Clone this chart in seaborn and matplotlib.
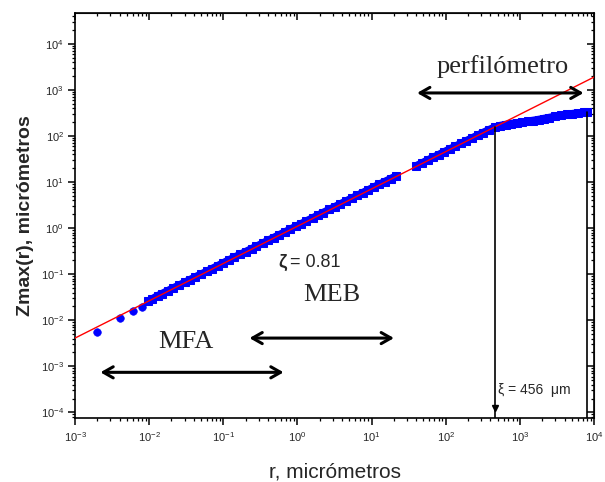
import pandas as pd
import seaborn as sns
from matplotlib import pyplot as plt

# sparse points at small r (MFA)
r_low = [0.002, 0.004, 0.006, 0.008]
z_low = [0.0056, 0.011, 0.0155, 0.019]

# dense band, MFA + MEB range
r_a = [0.0097, 0.011, 0.013, 0.015, 0.018, 0.021, 0.025, 0.03, 0.035, 0.042,
       0.05, 0.06, 0.07, 0.085, 0.1, 0.12, 0.14, 0.17, 0.2, 0.24, 0.28, 0.34,
       0.4, 0.48, 0.57, 0.68, 0.8, 0.95, 1.1, 1.3, 1.6, 1.9, 2.2, 2.7, 3.2,
       3.8, 4.5, 5.4, 6.4, 7.6, 9.0, 10.7, 12.7, 15.0, 18.0, 21.0]
z_a = [0.026, 0.029, 0.034, 0.038, 0.044, 0.050, 0.057, 0.066, 0.075, 0.087,
       0.100, 0.115, 0.131, 0.154, 0.176, 0.205, 0.232, 0.270, 0.308, 0.356,
       0.403, 0.470, 0.540, 0.625, 0.718, 0.826, 0.945, 1.09, 1.22, 1.41,
       1.66, 1.91, 2.16, 2.54, 2.92, 3.35, 3.85, 4.46, 5.12, 5.90, 6.75,
       7.78, 8.95, 10.2, 11.8, 13.3]

# profilometer range
r_b = [40, 48, 57, 68, 80, 95, 113, 135, 160, 190, 226, 270, 320, 380, 456,
       540, 640, 760, 900, 1070, 1270, 1500, 1800, 2100, 2500, 3000, 3600,
       4300, 5100, 6100, 7200, 8000]
z_b = [22.5, 26.0, 30.0, 34.5, 39.3, 45.2, 52.0, 60.0, 68.8, 79.0, 90.5, 104,
       119, 136, 155, 168, 177, 185, 192, 200, 208, 217, 228, 239, 252, 266,
       280, 293, 305, 316, 325, 330]

# power law fit, zeta = 0.81
r_fit = [1e-3, 1e4]
z_fit = [0.0041, 1905]

xi = 456
z_xi = 156
r_end = 8000
z_end = 330

ylo, yhi = 10 ** -4.12, 10 ** 4.67

sns.set_style('ticks')
plt.rcParams['font.family'] = ['Liberation Sans', 'DejaVu Sans']
plt.rcParams['mathtext.default'] = 'regular'

df = pd.DataFrame({'r': r_a + r_b, 'z': z_a + z_b,
                   'seg': ['a'] * len(r_a) + ['b'] * len(r_b)})

fig, ax = plt.subplots(figsize=(6.05, 4.82), dpi=100)
fig.subplots_adjust(left=0.124, right=0.982, top=0.973, bottom=0.133)

sns.lineplot(x='r', y='z', units='seg', estimator=None, sort=False, data=df,
             color='#0000ff', lw=5.5, marker='s', markersize=5.5,
             markeredgecolor='#0000ff', ax=ax, zorder=2)
sns.scatterplot(x=r_low, y=z_low, color='#0000ff', s=30, marker='o',
                edgecolor='#0000ff', ax=ax, zorder=2)
sns.lineplot(x=r_fit, y=z_fit, color='#ff0000', lw=1, ax=ax, zorder=3)

ax.plot([xi, xi], [ylo, z_xi], color='black', lw=1.2, zorder=4)
ax.plot([r_end, r_end], [ylo, z_end], color='black', lw=1.2, zorder=4)
ax.plot([xi], [1.25e-4], marker='v', color='black', ms=4, zorder=4)

ax.set_xscale('log')
ax.set_yscale('log')
ax.set_xlim(1e-3, 1e4)
ax.set_ylim(ylo, yhi)
ax.set_xticks([10.0 ** k for k in range(-3, 5)])
ax.set_yticks([10.0 ** k for k in range(-4, 5)])

for s in ax.spines.values():
    s.set_visible(True)
    s.set_linewidth(1.2)
    s.set_color('black')
ax.tick_params(which='both', direction='out', labelsize=8, color='black')
ax.tick_params(axis='x', which='both', pad=4)
ax.tick_params(axis='y', which='both', pad=3)
ax.tick_params(which='major', length=5, width=1.1)
ax.tick_params(which='minor', length=2.5, width=0.9)

# top / right ticks point inward
top = ax.secondary_xaxis('top')
right = ax.secondary_yaxis('right')
for sec in (top, right):
    sec.tick_params(which='both', direction='in', labelsize=0, color='black')
    sec.tick_params(which='major', length=5, width=1.1)
    sec.tick_params(which='minor', length=2.5, width=0.9)
top.set_xticks([10.0 ** k for k in range(-3, 5)])
right.set_yticks([10.0 ** k for k in range(-4, 5)])
top.set_xticklabels([])
right.set_yticklabels([])

ax.set_xlabel('r, micrómetros', fontsize=15, labelpad=13)
ax.set_ylabel('Zmax(r), micrómetros', fontsize=14, fontweight='bold', labelpad=5)

# range arrows and labels
arrow = dict(arrowstyle='<->,head_length=0.7,head_width=0.4', lw=2.2,
             color='black', shrinkA=0, shrinkB=0)
ax.annotate('', xy=(0.65, 7.4e-4), xytext=(0.0022, 7.4e-4), arrowprops=arrow)
ax.annotate('', xy=(20, 0.0041), xytext=(0.225, 0.0041), arrowprops=arrow)
ax.annotate('', xy=(7200, 860), xytext=(41, 860), arrowprops=arrow)

serif = ['Liberation Serif', 'DejaVu Serif']
ax.text(0.031, 0.0033, 'MFA', family=serif, fontsize=19, ha='center', va='center')
ax.text(2.9, 0.035, 'MEB', family=serif, fontsize=19, ha='center', va='center')
ax.text(590, 3300, 'perfilómetro', family=serif, fontsize=19, ha='center', va='center')

ax.text(0.55, 0.18, 'ζ', fontsize=13, fontweight='bold', ha='left', va='center')
ax.text(0.80, 0.18, '= 0.81', fontsize=13, ha='left', va='center')
ax.text(500, 3.0e-4, 'ξ = 456  μm', fontsize=10, ha='left', va='center')

plt.savefig('out.png', dpi=100)
plt.close()
